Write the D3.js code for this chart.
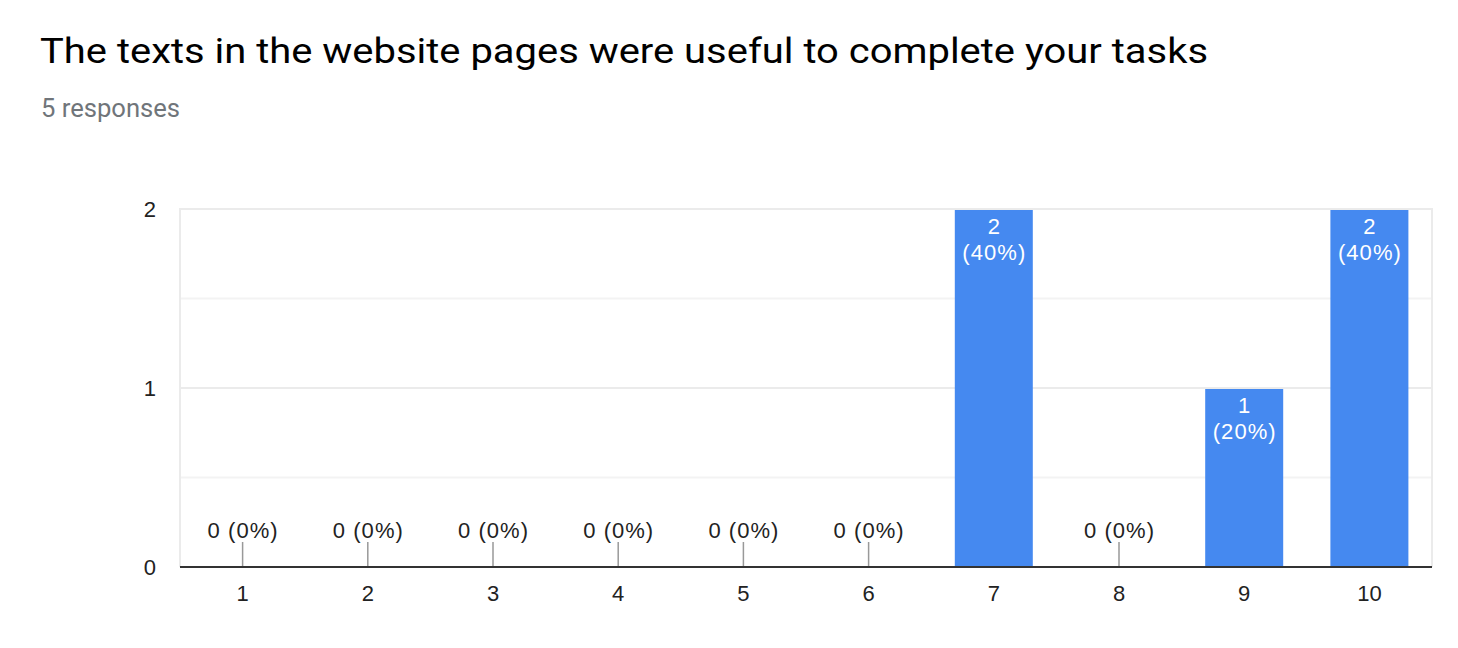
<!DOCTYPE html>
<html><head><meta charset="utf-8">
<script src="https://cdn.jsdelivr.net/npm/d3@7"></script>
<style>
html,body{margin:0;padding:0;background:#fff;}
svg{display:block;}
</style></head>
<body>
<svg id="chart" width="1458" height="648"></svg>
<script>
const title = "The texts in the website pages were useful to complete your tasks";
const subtitle = "5 responses";
const categories = ["1","2","3","4","5","6","7","8","9","10"];
const counts = [0,0,0,0,0,0,2,0,1,2];
const percents = ["0%","0%","0%","0%","0%","0%","40%","0%","20%","40%"];
const yTicks = [0,1,2];

const svg = d3.select("#chart");
const m = {left:180, right:1432, top:209, bottom:567};

svg.append("text").attr("x",40).attr("y",63)
  .attr("font-family","Roboto, Arial, sans-serif").attr("font-size",35)
  .attr("textLength",1168).attr("lengthAdjust","spacingAndGlyphs")
  .attr("fill","#000").text(title);
svg.append("text").attr("x",41).attr("y",117)
  .attr("font-family","Roboto, Arial, sans-serif").attr("font-size",26)
  .attr("textLength",139).attr("lengthAdjust","spacingAndGlyphs")
  .attr("fill","#70757a").text(subtitle);

const x = d3.scaleBand().domain(categories).range([m.left, m.right]).padding(0);
const y = d3.scaleLinear().domain([0,2]).range([m.bottom, m.top]);
const barW = x.bandwidth()*0.623;
const font = "Liberation Sans, Arial, sans-serif";
const fs = 22;

// horizontal gridlines (incl. halves)
const gridVals = [0.5,1,1.5,2];
svg.append("g").selectAll("line").data(gridVals).join("line")
  .attr("x1",m.left).attr("x2",m.right)
  .attr("y1",d=>y(d)).attr("y2",d=>y(d))
  .attr("stroke",d=> Number.isInteger(d) ? "#ebebeb" : "#f3f3f3").attr("stroke-width",2);
// vertical borders
svg.append("g").selectAll("line").data([m.left, m.right]).join("line")
  .attr("x1",d=>d).attr("x2",d=>d).attr("y1",m.top-1).attr("y2",m.bottom)
  .attr("stroke","#ebebeb").attr("stroke-width",2);

// y tick labels
svg.append("g").selectAll("text").data(yTicks).join("text")
  .attr("x",156).attr("y",d=>y(d)+8).attr("text-anchor","end")
  .attr("font-family",font).attr("font-size",fs).attr("fill","#222")
  .text(d=>d);

const data = categories.map((c,i)=>({c, v:counts[i], p:percents[i]}));

// bars
svg.append("g").selectAll("rect").data(data.filter(d=>d.v>0)).join("rect")
  .attr("x",d=>x(d.c)+(x.bandwidth()-barW)/2).attr("width",barW)
  .attr("y",d=>y(d.v)+1).attr("height",d=>y(0)-y(d.v)-1)
  .attr("fill","#4589f0");

// value labels inside bars
const inBar = svg.append("g").selectAll("g").data(data.filter(d=>d.v>0)).join("g");
inBar.append("text").attr("x",d=>x(d.c)+x.bandwidth()/2).attr("y",d=>y(d.v)+25)
  .attr("text-anchor","middle").attr("font-family",font).attr("font-size",fs).attr("fill","#fff")
  .text(d=>d.v);
inBar.append("text").attr("x",d=>x(d.c)+x.bandwidth()/2).attr("y",d=>y(d.v)+51)
  .attr("text-anchor","middle").attr("font-family",font).attr("font-size",fs).attr("fill","#fff")
  .attr("textLength",63).attr("lengthAdjust","spacing")
  .text(d=>"("+d.p+")");

// zero markers
const zeros = svg.append("g").selectAll("g").data(data.filter(d=>d.v===0)).join("g");
zeros.append("line").attr("x1",d=>x(d.c)+x.bandwidth()/2).attr("x2",d=>x(d.c)+x.bandwidth()/2)
  .attr("y1",y(0)-25).attr("y2",y(0)).attr("stroke","#999").attr("stroke-width",1.5);
zeros.append("text").attr("x",d=>x(d.c)+x.bandwidth()/2).attr("y",y(0)-29)
  .attr("text-anchor","middle").attr("font-family",font).attr("font-size",fs).attr("fill","#222")
  .attr("textLength",70).attr("lengthAdjust","spacing")
  .text(d=>d.v+" ("+d.p+")");

// baseline
svg.append("line").attr("x1",m.left).attr("x2",m.right).attr("y1",y(0)).attr("y2",y(0))
  .attr("stroke","#333").attr("stroke-width",2);

// x tick labels
svg.append("g").selectAll("text").data(categories).join("text")
  .attr("x",d=>x(d)+x.bandwidth()/2).attr("y",601)
  .attr("text-anchor","middle").attr("font-family",font).attr("font-size",fs).attr("fill","#222")
  .text(d=>d);
</script>
</body></html>
